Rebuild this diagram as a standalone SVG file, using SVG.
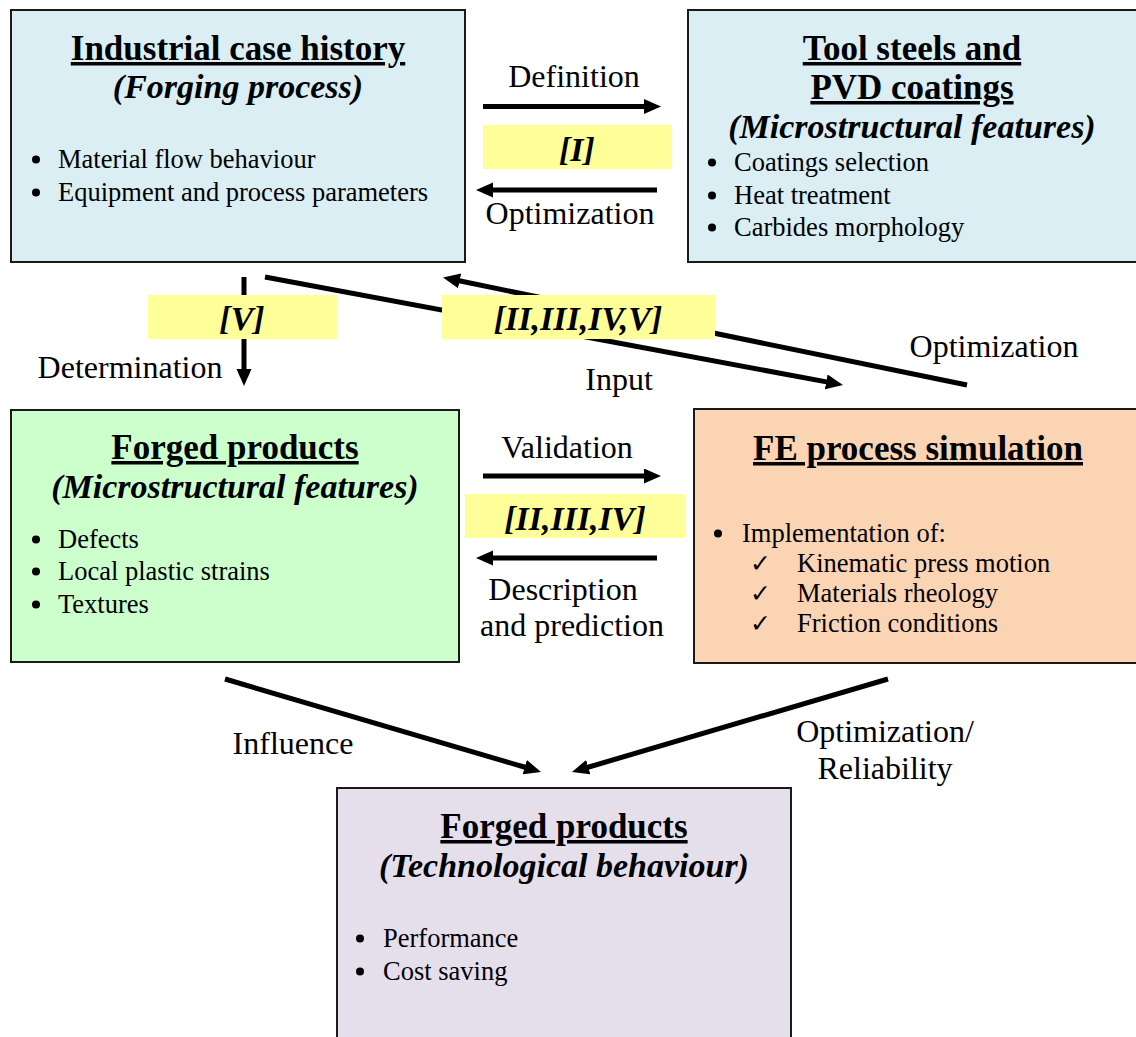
<svg xmlns="http://www.w3.org/2000/svg" width="1136" height="1037" viewBox="0 0 1136 1037">
<style>
text{font-family:"Liberation Serif","Times New Roman",serif;fill:#000}
.box{stroke:#1a1a1a;stroke-width:2}
.t{font-size:35px;font-weight:bold;text-decoration:underline;text-anchor:middle}
.s{font-size:34px;font-weight:bold;font-style:italic;text-anchor:middle}
.b{font-size:26.5px}
.d{fill:#000}
.l{font-size:32px;text-anchor:middle}
.y{fill:#FFFF99}
.yt{font-size:34px;font-weight:bold;font-style:italic;text-anchor:middle}
.c{stroke:#000;stroke-width:5;fill:none;marker-end:url(#ah)}
.ck{font-family:"DejaVu Sans",sans-serif;font-size:25px}
</style>
<defs>
<marker id="ah" markerUnits="userSpaceOnUse" markerWidth="18" markerHeight="16" refX="3" refY="7.5" orient="auto">
<path d="M0,0 L17,7.5 L0,15 Z" fill="#000"/>
</marker>
</defs>
<rect width="1136" height="1037" fill="#fff"/>

<g id="industrial-case-history">
<rect class="box" x="11" y="10" width="454" height="252" fill="#DAEEF3"/>
<text class="t" x="238" y="60">Industrial case history</text>
<text class="s" x="238" y="98">(Forging process)</text>
<circle class="d" cx="36" cy="159.5" r="4"/><text class="b" x="58" y="168">Material flow behaviour</text>
<circle class="d" cx="36" cy="192.5" r="4"/><text class="b" x="58" y="201">Equipment and process parameters</text>
</g>

<g id="tool-steels">
<rect class="box" x="688" y="10" width="452" height="252" fill="#DAEEF3"/>
<text class="t" x="912" y="60">Tool steels and</text>
<text class="t" x="912" y="99">PVD coatings</text>
<text class="s" x="912" y="138">(Microstructural features)</text>
<circle class="d" cx="712" cy="162.5" r="4"/><text class="b" x="734" y="171">Coatings selection</text>
<circle class="d" cx="712" cy="195.5" r="4"/><text class="b" x="734" y="204">Heat treatment</text>
<circle class="d" cx="712" cy="227.5" r="4"/><text class="b" x="734" y="236">Carbides morphology</text>
</g>

<g id="forged-products-micro">
<rect class="box" x="11" y="410" width="448" height="252" fill="#CCFFCC"/>
<text class="t" x="235" y="459">Forged products</text>
<text class="s" x="235" y="498">(Microstructural features)</text>
<circle class="d" cx="36" cy="539.5" r="4"/><text class="b" x="58" y="548">Defects</text>
<circle class="d" cx="36" cy="571.5" r="4"/><text class="b" x="58" y="580">Local plastic strains</text>
<circle class="d" cx="36" cy="604.5" r="4"/><text class="b" x="58" y="613">Textures</text>
</g>

<g id="fe-process-simulation">
<rect class="box" x="694" y="409" width="448" height="254" fill="#FBD4B4"/>
<text class="t" x="918" y="460">FE process simulation</text>
<circle class="d" cx="718" cy="533.5" r="4"/><text class="b" x="742" y="542">Implementation of:</text>
<text class="ck" x="750" y="572">✓</text><text class="b" x="797" y="572">Kinematic press motion</text>
<text class="ck" x="750" y="602">✓</text><text class="b" x="797" y="602">Materials rheology</text>
<text class="ck" x="750" y="632">✓</text><text class="b" x="797" y="632">Friction conditions</text>
</g>

<g id="forged-products-tech">
<rect class="box" x="337" y="788" width="454" height="260" fill="#E5DFEC"/>
<text class="t" x="564" y="838">Forged products</text>
<text class="s" x="564" y="877">(Technological behaviour)</text>
<circle class="d" cx="360" cy="938.5" r="4"/><text class="b" x="383" y="947">Performance</text>
<circle class="d" cx="360" cy="971.5" r="4"/><text class="b" x="383" y="980">Cost saving</text>
</g>

<g id="connectors">
<line class="c" x1="483" y1="106.5" x2="647" y2="106.5"/>
<line class="c" x1="657" y1="190" x2="490" y2="190"/>
<line class="c" x1="483" y1="476" x2="647" y2="476"/>
<line class="c" x1="657" y1="558" x2="490" y2="558"/>
<line class="c" x1="244" y1="277" x2="244" y2="372"/>
<line class="c" x1="265" y1="277" x2="829.2" y2="382.4"/>
<line class="c" x1="967" y1="385" x2="456.7" y2="280.3"/>
<line class="c" x1="225" y1="679" x2="527.6" y2="768"/>
<line class="c" x1="888" y1="679" x2="585.4" y2="768"/>
</g>

<g id="labels">
<text class="l" x="574" y="87">Definition</text>
<text class="l" x="570" y="224">Optimization</text>
<text class="l" x="567" y="458">Validation</text>
<text class="l" x="563" y="600">Description</text>
<text class="l" x="572" y="636">and prediction</text>
<text class="l" x="130" y="378">Determination</text>
<text class="l" x="619" y="390">Input</text>
<text class="l" x="994" y="357">Optimization</text>
<text class="l" x="293" y="754">Influence</text>
<text class="l" x="885" y="742">Optimization/</text>
<text class="l" x="885" y="779">Reliability</text>
</g>

<g id="refs">
<rect class="y" x="483" y="125" width="189" height="44"/>
<text class="yt" x="577" y="161">[I]</text>
<rect class="y" x="148" y="295" width="189" height="44"/>
<text class="yt" x="242" y="330">[V]</text>
<rect class="y" x="442" y="295" width="273" height="44"/>
<text class="yt" x="578" y="330">[II,III,IV,V]</text>
<rect class="y" x="465" y="494" width="220" height="44"/>
<text class="yt" x="575" y="530">[II,III,IV]</text>
</g>
</svg>
